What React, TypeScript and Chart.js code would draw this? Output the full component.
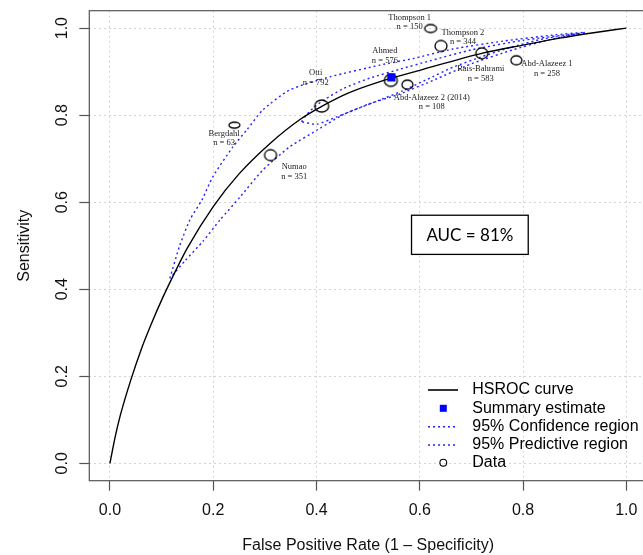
import React, { useEffect, useRef } from "react";
import { Chart, registerables } from "chart.js";

Chart.register(...registerables);

// ---------- data ----------
const xTicks = [0, 0.2, 0.4, 0.6, 0.8, 1.0];
const yTicks = [0, 0.2, 0.4, 0.6, 0.8, 1.0];
const xTickLabels = ["0.0", "0.2", "0.4", "0.6", "0.8", "1.0"];
const yTickLabels = ["0.0", "0.2", "0.4", "0.6", "0.8", "1.0"];
const xTitle = "False Positive Rate (1 \u2013 Specificity)";
const yTitle = "Sensitivity";

const curveFpr = [0, 0.01, 0.02, 0.04, 0.06, 0.08, 0.1, 0.12, 0.15, 0.2, 0.25, 0.31, 0.368, 0.41, 0.46, 0.523, 0.6, 0.72, 0.8, 0.871, 0.94, 1.0];
const curveSens = [0, 0.06, 0.11, 0.19, 0.26, 0.32, 0.375, 0.425, 0.495, 0.59, 0.665, 0.735, 0.79, 0.82, 0.85, 0.877, 0.903, 0.942, 0.961, 0.977, 0.99, 1.0];

const confFpr = [0.371, 0.38, 0.395, 0.415, 0.45, 0.503, 0.56, 0.62, 0.70, 0.80, 0.91, 0.838, 0.774, 0.722, 0.664, 0.614, 0.567, 0.523, 0.484, 0.439, 0.40, 0.371];
const confSens = [0.785, 0.80, 0.818, 0.835, 0.86, 0.885, 0.905, 0.925, 0.95, 0.972, 0.988, 0.975, 0.955, 0.935, 0.91, 0.882, 0.856, 0.835, 0.817, 0.796, 0.779, 0.785];

const predFpr = [0.116, 0.135, 0.155, 0.178, 0.199, 0.238, 0.265, 0.296, 0.348, 0.426, 0.523, 0.587, 0.664, 0.761, 0.858, 0.92, 0.85, 0.78, 0.70, 0.63, 0.56, 0.50, 0.45, 0.407, 0.348, 0.296, 0.252, 0.213, 0.18, 0.145, 0.116];
const predSens = [0.425, 0.50, 0.56, 0.605, 0.658, 0.727, 0.766, 0.812, 0.858, 0.888, 0.915, 0.93, 0.952, 0.970, 0.984, 0.99, 0.973, 0.95, 0.918, 0.882, 0.848, 0.825, 0.80, 0.77, 0.727, 0.674, 0.612, 0.559, 0.51, 0.465, 0.425];

const studyNames = ["Thompson 1", "Thompson 2", "Ahmed", "Rais-Bahrami", "Abd-Alazeez 1", "Abd-Alazeez 2 (2014)", "Otti", "Bergdahl", "Numao"];
const studyN = [150, 344, 576, 583, 258, 108, 792, 63, 351];
const studyFpr = [0.621, 0.641, 0.544, 0.72, 0.787, 0.576, 0.41, 0.241, 0.311];
const studySens = [0.999, 0.959, 0.88, 0.942, 0.926, 0.87, 0.821, 0.777, 0.708];

const summaryFpr = [0.545];
const summarySens = [0.887];

const aucText = "AUC = 81%";
const legendLabels = ["HSROC curve", "Summary estimate", "95% Confidence region", "95% Predictive region", "Data"];

// ---------- styles ----------
const ellipseW = [12, 12, 13, 12, 11, 11, 14, 11, 12];
const ellipseH = [8, 11, 12, 11, 9, 9, 12, 6, 11];
const labelDx = [-21, 22, -6, -1, 30.6, 24.4, -6, -10.3, 23.6];
const labelDy = [-11, -13.3, -29.3, 15.7, 3.7, 12.7, -33.3, 8.3, 11.7];
const aucBox = { x0: 0.584, x1: 0.81, y0: 0.48, y1: 0.57 };
const BLUE = "rgba(10,10,255,0.9)";
const SANS = '"Liberation Sans", Arial, Helvetica, sans-serif';

function makeEllipse(w: number, h: number): HTMLCanvasElement {
  const c = document.createElement("canvas");
  c.width = w + 4;
  c.height = h + 4;
  const g = c.getContext("2d")!;
  g.strokeStyle = "#000";
  g.lineWidth = 1.3;
  g.beginPath();
  g.ellipse(c.width / 2, c.height / 2, w / 2, h / 2, 0, 0, Math.PI * 2);
  g.stroke();
  return c;
}

const pts = (xs: number[], ys: number[]) => xs.map((x, i) => ({ x, y: ys[i] }));

const overlay = {
  id: "overlay",
  afterDraw(chart: any) {
    const ctx = chart.ctx as CanvasRenderingContext2D;
    const xs = chart.scales.x;
    const ys = chart.scales.y;
    const ca = chart.chartArea;
    ctx.save();
    // plot box
    ctx.strokeStyle = "#555";
    ctx.lineWidth = 1.2;
    ctx.setLineDash([]);
    ctx.strokeRect(ca.left, ca.top, ca.right - ca.left, ca.bottom - ca.top);

    // tick labels
    ctx.fillStyle = "#111";
    ctx.font = "16px " + SANS;
    ctx.textAlign = "center";
    ctx.textBaseline = "middle";
    xTicks.forEach((v, i) => ctx.fillText(xTickLabels[i], xs.getPixelForValue(v), ca.bottom + 29.5));
    yTicks.forEach((v, i) => {
      ctx.save();
      ctx.translate(ca.left - 27, ys.getPixelForValue(v));
      ctx.rotate(-Math.PI / 2);
      ctx.fillText(yTickLabels[i], 0, 0);
      ctx.restore();
    });
    // axis titles
    ctx.fillText(xTitle, (xs.getPixelForValue(0) + xs.getPixelForValue(1)) / 2, ca.bottom + 64.5);
    ctx.save();
    ctx.translate(ca.left - 64.5, (ys.getPixelForValue(0) + ys.getPixelForValue(1)) / 2);
    ctx.rotate(-Math.PI / 2);
    ctx.fillText(yTitle, 0, 0);
    ctx.restore();

    // study labels
    ctx.fillStyle = "#222";
    ctx.font = '8.5px "Liberation Serif", "Times New Roman", serif';
    studyNames.forEach((name, i) => {
      const px = xs.getPixelForValue(studyFpr[i]) + labelDx[i];
      const py = ys.getPixelForValue(studySens[i]) + labelDy[i];
      ctx.fillText(name, px, py);
      ctx.fillText("n = " + studyN[i], px, py + 9.6);
    });

    // AUC box
    const bx0 = xs.getPixelForValue(aucBox.x0);
    const bx1 = xs.getPixelForValue(aucBox.x1);
    const by0 = ys.getPixelForValue(aucBox.y1);
    const by1 = ys.getPixelForValue(aucBox.y0);
    ctx.fillStyle = "#fff";
    ctx.fillRect(bx0, by0, bx1 - bx0, by1 - by0);
    ctx.strokeStyle = "#000";
    ctx.lineWidth = 1.3;
    ctx.strokeRect(bx0, by0, bx1 - bx0, by1 - by0);
    ctx.fillStyle = "#000";
    ctx.font = '17px Lato, "Open Sans", sans-serif';
    ctx.fillText(aucText, (bx0 + bx1) / 2, (by0 + by1) / 2 + 1);

    // legend
    const rows = [390, 408.3, 426.7, 445, 462.7];
    const lx0 = 428, lx1 = 458, lxc = 443.3, ltx = 472.3;
    ctx.lineWidth = 1.6;
    ctx.strokeStyle = "#000";
    ctx.beginPath();
    ctx.moveTo(lx0, rows[0]);
    ctx.lineTo(lx1, rows[0]);
    ctx.stroke();
    ctx.fillStyle = "#0000ff";
    ctx.fillRect(lxc - 3.5, rows[1] - 3.5, 7, 7);
    ctx.strokeStyle = BLUE;
    ctx.lineWidth = 1.4;
    ctx.setLineDash([2, 3]);
    [rows[2], rows[3]].forEach((ry) => {
      ctx.beginPath();
      ctx.moveTo(lx0, ry);
      ctx.lineTo(lx1, ry);
      ctx.stroke();
    });
    ctx.setLineDash([]);
    ctx.strokeStyle = "#000";
    ctx.lineWidth = 1.1;
    ctx.beginPath();
    ctx.arc(lxc, rows[4], 3.4, 0, Math.PI * 2);
    ctx.stroke();
    ctx.fillStyle = "#000";
    ctx.font = "16px " + SANS;
    ctx.textAlign = "left";
    legendLabels.forEach((t, i) => ctx.fillText(t, ltx, rows[i]));
    ctx.restore();
  },
};

export default function App() {
  const ref = useRef<HTMLCanvasElement | null>(null);
  useEffect(() => {
    if (!ref.current) return;
    const ellipses = ellipseW.map((w, i) => makeEllipse(w, ellipseH[i]));
    const gridOpts = {
      color: "#d4d4d4",
      lineWidth: 1,
      drawTicks: true,
      tickLength: 10,
      tickColor: "#555",
      tickWidth: 1.2,
      tickBorderDash: [],
    };
    const chart = new Chart(ref.current, {
      type: "scatter",
      data: {
        datasets: [
          {
            label: "Summary estimate",
            data: pts(summaryFpr, summarySens),
            pointStyle: "rect",
            pointRadius: 5.8,
            backgroundColor: "#0000ff",
            borderColor: "#0000ff",
            borderWidth: 0,
            order: 0,
          } as any,
          {
            label: "Data",
            data: pts(studyFpr, studySens),
            pointStyle: ellipses,
            pointRadius: 6,
            order: 1,
          } as any,
          {
            label: "HSROC curve",
            data: pts(curveFpr, curveSens),
            showLine: true,
            borderColor: "#000",
            borderWidth: 1.4,
            pointRadius: 0,
            cubicInterpolationMode: "monotone",
            order: 2,
          } as any,
          {
            label: "95% Confidence region",
            data: pts(confFpr, confSens),
            showLine: true,
            borderColor: BLUE,
            borderWidth: 1.4,
            borderDash: [2, 3],
            pointRadius: 0,
            tension: 0.2,
            order: 3,
          } as any,
          {
            label: "95% Predictive region",
            data: pts(predFpr, predSens),
            showLine: true,
            borderColor: BLUE,
            borderWidth: 1.4,
            borderDash: [2, 3],
            pointRadius: 0,
            tension: 0.2,
            order: 4,
          } as any,
        ],
      },
      options: {
        animation: false,
        responsive: false,
        devicePixelRatio: 1,
        events: [],
        layout: { padding: { left: 0, top: 10.7, right: 23, bottom: 0 } },
        plugins: { legend: { display: false }, tooltip: { enabled: false } },
        scales: {
          x: {
            type: "linear",
            min: -0.04,
            max: 1.04,
            grid: gridOpts,
            border: { display: false, dash: [2, 3] },
            ticks: { display: false },
            afterBuildTicks: (s: any) => {
              s.ticks = xTicks.map((v) => ({ value: v }));
            },
            afterFit: (s: any) => {
              s.height = 74.3;
            },
          },
          y: {
            type: "linear",
            min: -0.04,
            max: 1.04,
            grid: gridOpts,
            border: { display: false, dash: [2, 3] },
            ticks: { display: false },
            afterBuildTicks: (s: any) => {
              s.ticks = yTicks.map((v) => ({ value: v }));
            },
            afterFit: (s: any) => {
              s.width = 89.3;
            },
          },
        },
      } as any,
      plugins: [overlay],
    });
    return () => chart.destroy();
  }, []);
  return (
    <div style={{ position: "absolute", left: 0, top: 0, width: 643, height: 555, overflow: "hidden", background: "#fff" }}>
      <canvas ref={ref} width={670} height={555} style={{ display: "block", width: 670, height: 555 }} />
    </div>
  );
}
